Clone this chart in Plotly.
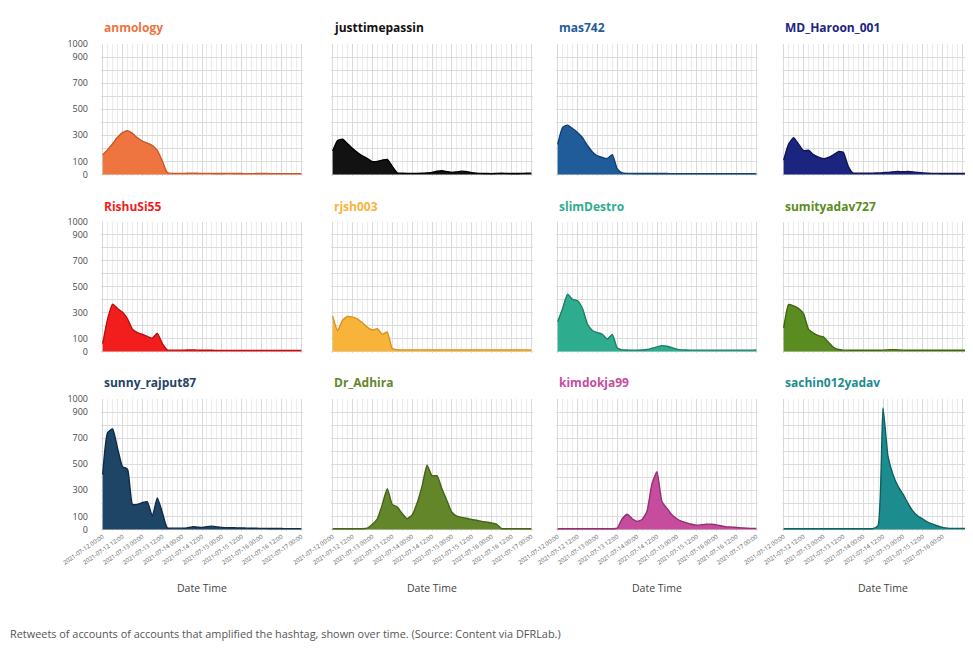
import plotly.graph_objects as go
import pandas as pd

# ---------------- data ----------------
accounts = ["anmology", "justtimepassin", "mas742", "MD_Haroon_001",
            "RishuSi55", "rjsh003", "slimDestro", "sumityadav727",
            "sunny_rajput87", "Dr_Adhira", "kimdokja99", "sachin012yadav"]

colors = ["#EE7440", "#121212", "#1F5C99", "#1B2580",
          "#F21E1E", "#F7B33A", "#2EAD8E", "#5B8C22",
          "#1E4466", "#64862A", "#C64C9E", "#1C8C8F"]

line_colors = ["#C8582A", "#000000", "#143F6E", "#101655",
               "#B81010", "#D8921A", "#1E7E66", "#3F6612",
               "#122C46", "#46621A", "#93306F", "#10605F"]

start_time = "2021-07-12 00:00"
n_points = 41
times = pd.date_range(start_time, periods=n_points, freq="3h")

anmology = [150,190,235,285,320,335,315,280,255,240,222,185,105,15,8,8,8,9,10,9,8,8,8,7,7,8,8,7,7,6,6,7,7,7,6,6,6,6,6,6,6]
justtimepassin = [180,260,270,235,198,168,142,122,98,100,110,115,62,13,9,8,8,8,9,12,16,24,28,22,16,20,25,22,14,10,8,7,6,8,9,8,7,7,8,9,10]
mas742 = [230,360,378,352,322,282,222,172,142,130,122,152,42,12,8,8,7,7,7,7,7,7,7,6,6,6,6,6,6,6,6,6,6,6,6,6,6,6,6,6,6]
md_haroon_001 = [110,232,282,232,182,186,152,132,120,130,150,175,170,62,10,10,9,9,10,11,13,16,20,22,21,22,20,16,12,10,8,8,7,7,7,7,7,7,7,7,7]
rishusi55 = [60,252,366,332,302,252,172,146,132,116,102,140,62,12,10,10,10,11,12,10,9,9,9,8,8,8,8,8,8,8,8,8,8,8,8,8,8,8,8,8,8]
rjsh003 = [272,162,242,270,265,250,222,186,166,176,132,150,22,12,12,12,12,12,12,12,12,12,12,12,12,12,12,12,12,12,12,12,12,12,12,12,12,12,12,12,12]
slimdestro = [230,332,442,402,392,332,212,162,146,132,96,132,26,12,11,10,10,11,15,25,35,45,40,30,18,12,11,10,10,10,10,10,10,10,10,10,10,10,10,10,12]
sumityadav727 = [180,362,352,332,292,172,142,122,112,72,32,15,10,10,9,9,9,9,9,9,10,12,14,12,10,9,9,9,9,9,9,9,9,9,9,9,9,9,9,9,9]
sunny_rajput87 = [420,742,770,622,482,462,192,192,206,212,102,242,132,12,10,10,10,12,20,18,15,22,25,20,16,14,13,12,11,10,9,9,8,8,7,7,7,6,6,6,6]
dr_adhira = [5,5,5,5,5,5,5,10,40,82,192,312,192,172,122,82,112,202,332,492,412,412,312,222,132,102,92,86,76,70,62,56,50,40,6,5,5,5,5,5,5]
kimdokja99 = [5,5,5,5,5,5,5,5,5,5,5,5,10,82,116,82,62,76,142,352,442,212,162,112,82,62,50,40,32,36,40,40,35,26,20,18,15,12,10,8,8]
sachin012yadav = [5,5,5,5,5,5,5,5,5,5,5,5,5,5,5,5,5,5,6,30,932,562,422,332,272,202,142,102,80,56,40,26,16,10,8,8,8,8,8,8,8]

series = [anmology, justtimepassin, mas742, md_haroon_001,
          rishusi55, rjsh003, slimdestro, sumityadav727,
          sunny_rajput87, dr_adhira, kimdokja99, sachin012yadav]

y_tickvals = [0, 100, 200, 300, 400, 500, 600, 700, 800, 900, 1000]
y_ticktext = ["0", "100", "", "300", "", "500", "", "700", "", "900", "1000"]

caption = "Retweets of accounts of accounts that amplified the hashtag, shown over time. (Source: Content via DFRLab.)"

# ---------------- layout geometry ----------------
# page has an 8px body margin; figure is sized to fit the window without scrollbars
OFF = 8
W, H = 973 - 2 * OFF, 651 - 2 * OFF
col_left = [101, 331, 556, 782]
panel_w = 202
row_top = [44, 222, 399]
row_bot = [176, 353, 531]


def px(x):
    return (x - OFF) / W


def py(y):
    return 1 - (y - OFF) / H


fig = go.Figure()
t0 = pd.Timestamp(start_time)
full_range = [t0 - pd.Timedelta(hours=1), t0 + pd.Timedelta(hours=121)]
right_edge = W + OFF

annotations = []
for i, (name, vals) in enumerate(zip(accounts, series)):
    r, c = divmod(i, 4)
    k = i + 1
    xa = "x" if k == 1 else f"x{k}"
    ya = "y" if k == 1 else f"y{k}"
    fig.add_trace(go.Scatter(
        x=times, y=vals, mode="lines", fill="tozeroy",
        line=dict(color=line_colors[i], width=1.4, shape="spline", smoothing=0.5),
        fillcolor=colors[i], xaxis=xa, yaxis=ya, showlegend=False,
        hoverinfo="x+y"))

    x0 = px(col_left[c])
    x1 = px(min(col_left[c] + panel_w, right_edge))
    if col_left[c] + panel_w > right_edge:
        frac = (right_edge - col_left[c]) / panel_w
        span = full_range[1] - full_range[0]
        xr = [full_range[0], full_range[0] + span * frac]
    else:
        xr = full_range
    y0 = py(row_bot[r])
    y1 = py(row_top[r])

    xkey = "xaxis" if k == 1 else f"xaxis{k}"
    ykey = "yaxis" if k == 1 else f"yaxis{k}"
    fig.layout[xkey] = dict(
        domain=[x0, x1], anchor=ya, type="date", range=xr, automargin=False,
        tickmode="linear", tick0=t0, dtick=12 * 3600 * 1000,
        tickformat="%Y-%m-%d %H:%M", tickangle=-35,
        tickfont=dict(size=6, color="#5A5A5A", family="Open Sans"),
        showticklabels=(r == 2), ticks="", showline=False, zeroline=False,
        showgrid=True, gridcolor="#D9D9D9", gridwidth=1,
        minor=dict(dtick=3 * 3600 * 1000, tick0=t0, showgrid=True,
                   gridcolor="#EBEBEB", gridwidth=1),
        fixedrange=True)
    fig.layout[ykey] = dict(
        domain=[y0, y1], anchor=xa, range=[-12, 1000], automargin=False,
        tickmode="array", tickvals=y_tickvals, ticktext=y_ticktext,
        showticklabels=(c == 0), ticks="", ticklabelstandoff=12,
        tickfont=dict(size=9, color="#4A4A4A", family="Open Sans"),
        showgrid=True, gridcolor="#DCDCDC", gridwidth=1,
        zeroline=False, showline=False, fixedrange=True)

    annotations.append(dict(
        text=f"<b>{name}</b>", x=px(col_left[c] + 1), y=py(row_top[r] - 16),
        xref="paper", yref="paper", xanchor="left", yanchor="middle",
        showarrow=False, font=dict(size=12, color=colors[i], family="Open Sans")))
    if r == 2:
        annotations.append(dict(
            text="Date Time", x=px(col_left[c] + panel_w / 2), y=py(588),
            xref="paper", yref="paper", xanchor="center", yanchor="middle",
            showarrow=False, font=dict(size=10.5, color="#444", family="Open Sans")))

annotations.append(dict(
    text=caption, x=px(8), y=py(633), xref="paper", yref="paper",
    xanchor="left", yanchor="middle", showarrow=False,
    font=dict(size=10.9, color="#555", family="Open Sans")))

fig.update_layout(
    width=W, height=H, margin=dict(l=0, r=0, t=0, b=0, autoexpand=False),
    paper_bgcolor="white", plot_bgcolor="white",
    annotations=annotations, font=dict(family="Open Sans"))

fig.write_html("out.html")
